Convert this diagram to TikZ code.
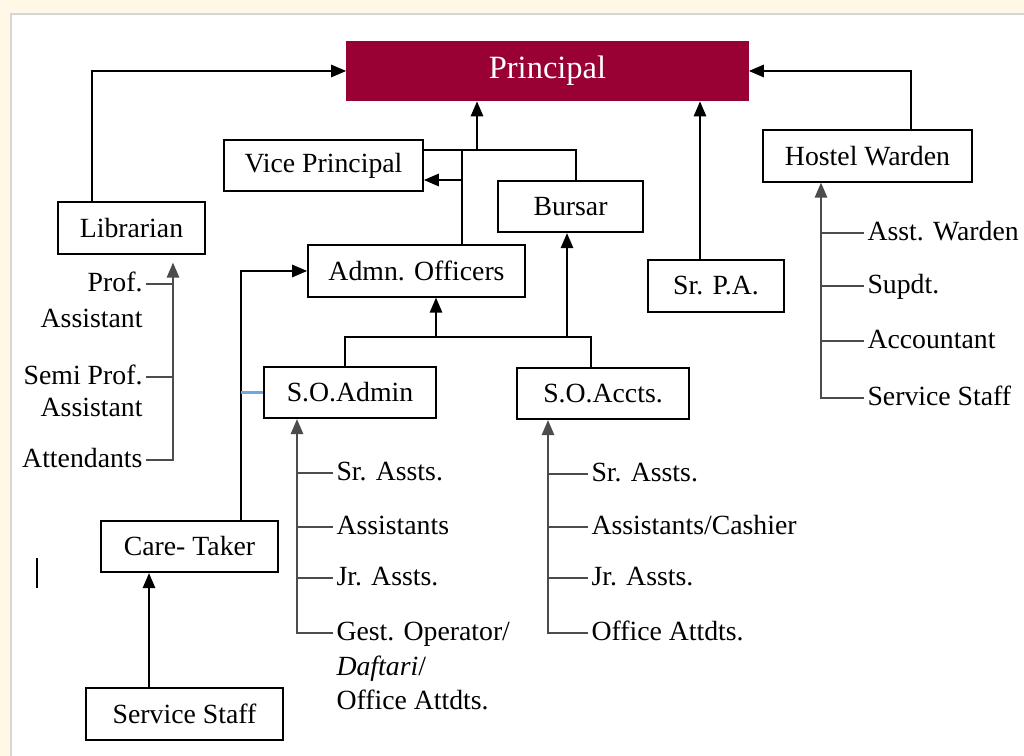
\documentclass[tikz,border=0pt]{standalone}
\usepackage{fontspec}
\setmainfont{Liberation Serif}
\usetikzlibrary{arrows.meta}
\definecolor{princol}{HTML}{990033}
\definecolor{cream}{HTML}{FFF8E6}
\definecolor{framegray}{HTML}{D6D6D6}
\definecolor{linkblue}{HTML}{6FA8DC}
\tikzset{
  box/.style={draw, fill=white, inner sep=0pt, minimum height=1.03cm, font=\fontsize{15.8}{19}\selectfont},
  lbl/.style={inner sep=1.5pt, text height=0.9em, text depth=0pt, font=\fontsize{15.8}{19}\selectfont},
  arr/.style={-{Triangle[length=8.5pt,width=7pt]}},
  staffline/.style={black!70}
}
\begin{document}
\begin{tikzpicture}[x=0.02cm, y=-0.02cm, line width=1pt]
      % Background
      \useasboundingbox (0,0) rectangle (1024,756);
      \fill[cream] (0,0) rectangle (1024,756);
      \fill[white] (11,14) rectangle (1024,756);
      \draw[framegray] (11,756) -- (11,14) -- (1024,14);

      % Nodes
      \node[box, fill=princol, draw=princol, text=white, minimum width=8.02cm, minimum height=1.18cm, font=\fontsize{18.5}{22}\selectfont] at (547.5,71) (prin) {Principal};
      \node[box, minimum width=2.94cm] at (131.5,228) (lib) {Librarian};
      \node[box, minimum width=3.98cm] at (323.5,165.5) (vp) {Vice Principal};
      \node[box, minimum width=2.9cm] at (570.5,206.5) (bur) {Bursar};
      \node[box, minimum width=4.34cm] at (416.5,271) (adm) {Admn. Officers};
      \node[box, minimum width=2.72cm] at (716,286) (spa) {Sr. P.A.};
      \node[box, minimum width=4.18cm] at (867.5,156) (hw) {Hostel Warden};
      \node[box, minimum width=3.44cm] at (350,392.5) (soad) {S.O.Admin};
      \node[box, minimum width=3.44cm] at (603,393.5) (soac) {S.O.Accts.};
      \node[box, minimum width=3.54cm] at (189.5,546.5) (ct) {Care- Taker};
      \node[box, minimum width=3.94cm] at (184.5,714) (ss) {Service Staff};

      % Staff labels
      \node[lbl, anchor=east] at (146,284) (la1) {Prof.};
      \node[lbl, anchor=east] at (146,320) (la1b) {Assistant};
      \node[lbl, anchor=east] at (146,377) (la2) {Semi Prof.};
      \node[lbl, anchor=east] at (146,409) (la2b) {Assistant};
      \node[lbl, anchor=east] at (146,460) (la3) {Attendants};

      \node[lbl, anchor=west] at (333,473) (ad1) {Sr. Assts.};
      \node[lbl, anchor=west] at (333,527) (ad2) {Assistants};
      \node[lbl, anchor=west] at (333,578) (ad3) {Jr. Assts.};
      \node[lbl, anchor=west] at (333,633) (ad4) {Gest. Operator/};
      \node[lbl, anchor=west] at (333,668) (ad5) {\textit{Daftari}/};
      \node[lbl, anchor=west] at (333,702) (ad6) {Office Attdts.};

      \node[lbl, anchor=west] at (588,474) (oa1) {Sr. Assts.};
      \node[lbl, anchor=west] at (588,527) (oa2) {Assistants/Cashier};
      \node[lbl, anchor=west] at (588,578) (oa3) {Jr. Assts.};
      \node[lbl, anchor=west] at (588,633) (oa4) {Office Attdts.};

      \node[lbl, anchor=west] at (864,233) (hs1) {Asst. Warden};
      \node[lbl, anchor=west] at (864,286) (hs2) {Supdt.};
      \node[lbl, anchor=west] at (864,341) (hs3) {Accountant};
      \node[lbl, anchor=west] at (864,398) (hs4) {Service Staff};

      % Joints
      \coordinate (hub) at (477,150);
      \coordinate (vpj) at (462,150);
      \coordinate (burj) at (576,150);
      \coordinate (vpin) at (462,180);
      \coordinate (paj) at (700,260);
      \coordinate (soj) at (436,337);
      \coordinate (adj) at (345,337);
      \coordinate (acj) at (591,337);
      \coordinate (burin) at (567,337);
      \coordinate (ctj) at (241,271);
      \coordinate (ssj) at (149,688);
      \coordinate (libft) at (173,460);
      \coordinate (adft) at (297,633);
      \coordinate (acft) at (548,633);
      \coordinate (hwft) at (821,398);

      % Links to the Principal
      \draw[arr] ([xshift=-0.79cm]lib.north) |- (prin.west);
      \draw[arr] ([xshift=0.87cm]hw.north) |- (prin.east);
      \draw[arr] (paj) -- (paj |- prin.south);
      \draw[arr] (hub) -- (hub |- prin.south);
      \draw (vpj -| vp.east) -- (burj) -- (burj |- bur.north);
      \draw (vpj) -- (vpj |- adm.north);
      \draw[arr] (vpin) -- (vpin -| vp.east);

      % Section officers
      \draw[arr] (soj) -- (soj |- adm.south);
      \draw (adj |- soad.north) -- (adj) -- (acj) -- (acj |- soac.north);
      \draw[arr] (burin) -- (burin |- bur.south);

      % Care-taker
      \draw[arr] (ctj |- ct.north) -- (ctj) -- (ctj -| adm.west);
      \draw[linkblue, line width=1.2pt] (ctj |- soad.west) -- (soad.west);
      \draw[arr] (ssj |- ss.north) -- (ssj |- ct.south);

      % Staff trees
      \draw[staffline, arr, shorten >=0.16cm] (la3.east) -- (libft) -- (libft |- lib.south);
      \foreach \n in {la1,la2} \draw[staffline] (\n.east) -- (\n.east -| libft);
      \draw[staffline, arr] (ad4.west) -- (adft) -- (adft |- soad.south);
      \foreach \n in {ad1,ad2,ad3} \draw[staffline] (\n.west) -- (\n.west -| adft);
      \draw[staffline, arr] (oa4.west) -- (acft) -- (acft |- soac.south);
      \foreach \n in {oa1,oa2,oa3} \draw[staffline] (\n.west) -- (\n.west -| acft);
      \draw[staffline, arr] (hs4.west) -- (hwft) -- (hwft |- hw.south);
      \foreach \n in {hs1,hs2,hs3} \draw[staffline] (\n.west) -- (\n.west -| hwft);

      \draw (37,558) -- (37,588);
    \end{tikzpicture}
\end{document}
